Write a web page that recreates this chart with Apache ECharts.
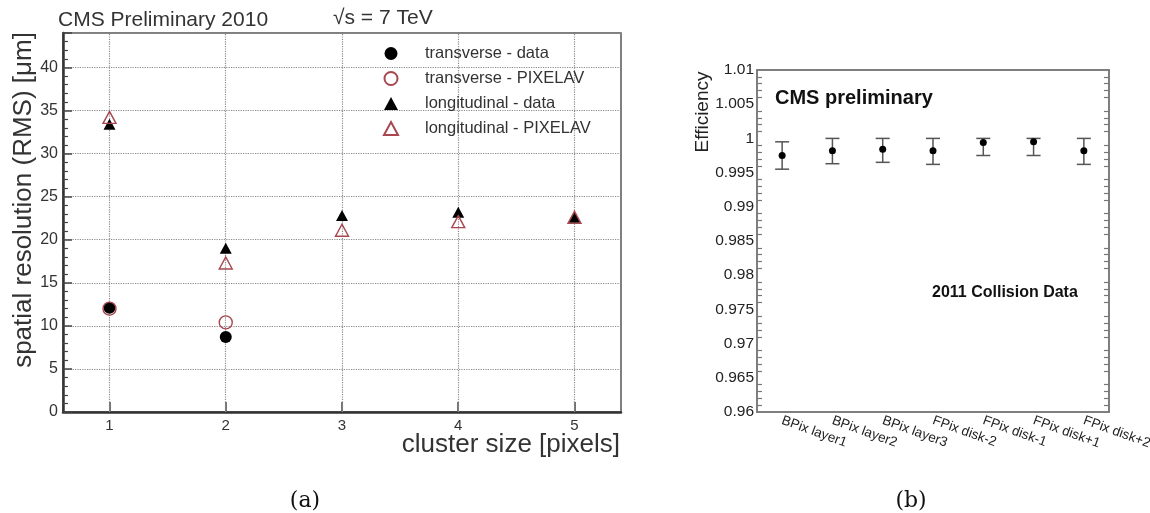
<!DOCTYPE html>
<html><head><meta charset="utf-8">
<script src="https://cdn.jsdelivr.net/npm/echarts@6/dist/echarts.min.js"></script>
<style>html,body{margin:0;padding:0;background:#fff}#c{width:1150px;height:513px}</style>
</head><body><div id="c"></div>
<script>
// ---- panel (a) data ----
const clusterSizes = [1, 2, 3, 4, 5];
const transX = [1, 2];
const transDataY = [12.1, 8.7];
const transSimY = [12.0, 10.4];
const longDataY = [33.4, 19.0, 22.8, 23.2, 22.6];
const longSimY = [34.2, 17.3, 21.1, 22.1, 22.6];
const seriesNames = ['transverse - data', 'transverse - PIXELAV', 'longitudinal - data', 'longitudinal - PIXELAV'];

// ---- panel (b) data ----
const layers = ['BPix layer1', 'BPix layer2', 'BPix layer3', 'FPix disk-2', 'FPix disk-1', 'FPix disk+1', 'FPix disk+2'];
const eff = [0.9975, 0.9982, 0.9984, 0.9982, 0.9994, 0.9995, 0.9982];
const effLow = [0.9955, 0.9963, 0.9965, 0.9962, 0.9975, 0.9975, 0.9962];
const effHigh = [0.9995, 1.0000, 1.0000, 1.0000, 1.0000, 1.0000, 1.0000];

const RED = '#a8474f';
const SANS = '"Liberation Sans", Arial, sans-serif';
const openStyle = { color: 'rgba(255,255,255,0)', borderColor: RED, borderWidth: 1.4, opacity: 1 };
const fillStyle = { color: '#000', opacity: 1 };

const chart = echarts.init(document.getElementById('c'), null, { renderer: 'canvas' });

function errRender(params, api) {
  const x = api.value(0);
  const lo = api.coord([x, api.value(1)]);
  const hi = api.coord([x, api.value(2)]);
  const w = 7;
  const st = { stroke: '#555', lineWidth: 1.5 };
  return {
    type: 'group',
    children: [
      { type: 'line', shape: { x1: lo[0], y1: lo[1], x2: hi[0], y2: hi[1] }, style: st },
      { type: 'line', shape: { x1: lo[0] - w, y1: lo[1], x2: lo[0] + w, y2: lo[1] }, style: st },
      { type: 'line', shape: { x1: hi[0] - w, y1: hi[1], x2: hi[0] + w, y2: hi[1] }, style: st }
    ]
  };
}

const option = {
  animation: false,
  backgroundColor: '#fff',
  textStyle: { fontFamily: SANS },
  grid: [
    { left: 63, top: 33, width: 558, height: 379, show: true, borderColor: '#555', borderWidth: 1.5, backgroundColor: 'transparent', outerBoundsMode: 'none', containLabel: false },
    { left: 757, top: 70, width: 352, height: 342, show: true, borderColor: '#777', borderWidth: 1.5, backgroundColor: 'transparent', outerBoundsMode: 'none', containLabel: false }
  ],
  xAxis: [
    {
      gridIndex: 0, type: 'value', min: 0.6, max: 5.4,
      axisLine: { lineStyle: { color: '#333', width: 2.5 } },
      axisTick: { inside: true, length: 10, customValues: clusterSizes, lineStyle: { color: '#444', width: 1.5 } },
      axisLabel: { customValues: clusterSizes, margin: 6, fontSize: 15, color: '#333', fontFamily: SANS },
      splitLine: { show: false }
    },
    {
      gridIndex: 1, type: 'category', data: layers, position: 'bottom', boundaryGap: true,
      axisLine: { lineStyle: { color: '#777', width: 1.5 } },
      axisTick: { inside: true, length: 9, alignWithLabel: true, lineStyle: { color: '#777', width: 1.5 } },
      axisLabel: { rotate: -20, margin: 8, fontSize: 13.5, color: '#222', fontFamily: SANS, interval: 0 },
      splitLine: { show: false }
    },
    {
      gridIndex: 1, type: 'category', data: layers, position: 'top', boundaryGap: true,
      axisLine: { lineStyle: { color: '#777', width: 1.5 } },
      axisTick: { inside: true, length: 9, alignWithLabel: true, lineStyle: { color: '#777', width: 1.5 } },
      axisLabel: { show: false },
      splitLine: { show: false }
    }
  ],
  yAxis: [
    {
      gridIndex: 0, type: 'value', min: 0, max: 44, interval: 5,
      axisLine: { show: true, lineStyle: { color: '#333', width: 2.5 } },
      axisTick: { inside: true, length: 9, lineStyle: { color: '#444', width: 1.5 } },
      minorTick: { show: true, splitNumber: 5, length: 5, lineStyle: { color: '#444', width: 1.2 } },
      axisLabel: { margin: 5, fontSize: 16, color: '#333', fontFamily: SANS,
        formatter: v => (v % 5 === 0 ? String(v) : '') },
      splitLine: { show: true, lineStyle: { color: '#8a8a8a', type: 'dotted', width: 1.2 } }
    },
    {
      gridIndex: 1, type: 'value', min: 0.96, max: 1.01, interval: 0.005, position: 'left',
      axisLine: { show: true, lineStyle: { color: '#777', width: 1.5 } },
      axisTick: { inside: true, length: 9, lineStyle: { color: '#777', width: 1.5 } },
      minorTick: { show: true, splitNumber: 5, length: 5, lineStyle: { color: '#777', width: 1.2 } },
      axisLabel: { margin: 3, fontSize: 15.5, color: '#222', fontFamily: SANS },
      splitLine: { show: false }
    },
    {
      gridIndex: 1, type: 'value', min: 0.96, max: 1.01, interval: 0.005, position: 'right',
      axisLine: { show: true, lineStyle: { color: '#777', width: 1.5 } },
      axisTick: { inside: true, length: 9, lineStyle: { color: '#777', width: 1.5 } },
      minorTick: { show: true, splitNumber: 5, length: 5, lineStyle: { color: '#777', width: 1.2 } },
      axisLabel: { show: false },
      splitLine: { show: false }
    }
  ],
  legend: {
    orient: 'vertical', left: 378, top: 40, itemWidth: 14, itemHeight: 13, itemGap: 8,
    textStyle: { fontSize: 16.5, color: '#333', fontFamily: SANS, padding: [0, 0, 0, 22] },
    selectedMode: false,
    data: [
      { name: seriesNames[0], icon: 'circle' },
      { name: seriesNames[1], icon: 'circle' },
      { name: seriesNames[2], icon: 'triangle' },
      { name: seriesNames[3], icon: 'triangle' }
    ]
  },
  series: [
    {
      type: 'scatter', name: 'grid-x', xAxisIndex: 0, yAxisIndex: 0, data: [], z: 1, silent: true,
      markLine: {
        silent: true, symbol: 'none', z: 1, label: { show: false },
        lineStyle: { color: '#8a8a8a', type: 'dotted', width: 1.2 },
        data: clusterSizes.map(v => ({ xAxis: v }))
      }
    },
    {
      type: 'scatter', name: seriesNames[0], xAxisIndex: 0, yAxisIndex: 0, z: 3,
      symbol: 'circle', symbolSize: 12, itemStyle: fillStyle,
      data: transX.map((x, i) => [x, transDataY[i]])
    },
    {
      type: 'scatter', name: seriesNames[1], xAxisIndex: 0, yAxisIndex: 0, z: 4,
      symbol: 'circle', symbolSize: 13, itemStyle: openStyle,
      data: transX.map((x, i) => [x, transSimY[i]])
    },
    {
      type: 'scatter', name: seriesNames[2], xAxisIndex: 0, yAxisIndex: 0, z: 3,
      symbol: 'triangle', symbolSize: [12, 11], itemStyle: fillStyle,
      data: clusterSizes.map((x, i) => [x, longDataY[i]])
    },
    {
      type: 'scatter', name: seriesNames[3], xAxisIndex: 0, yAxisIndex: 0, z: 4,
      symbol: 'triangle', symbolSize: [13, 12], itemStyle: openStyle,
      data: clusterSizes.map((x, i) => [x, longSimY[i]])
    },
    {
      type: 'custom', name: 'err', xAxisIndex: 1, yAxisIndex: 1, z: 3,
      renderItem: errRender,
      data: layers.map((c, i) => [i, effLow[i], effHigh[i]])
    },
    {
      type: 'scatter', name: 'eff', xAxisIndex: 1, yAxisIndex: 1, z: 4,
      symbol: 'circle', symbolSize: 7, itemStyle: fillStyle,
      data: eff
    }
  ],
  graphic: [
    { type: 'text', x: 58, y: 20, style: { text: 'CMS Preliminary 2010', font: '21px ' + SANS, fill: '#333', textVerticalAlign: 'middle' } },
    { type: 'text', x: 333, y: 18, style: { text: '√s = 7 TeV', font: '21px ' + SANS, fill: '#333', textVerticalAlign: 'middle' } },
    { type: 'text', x: 24, y: 200, rotation: Math.PI / 2, style: { text: 'spatial resolution (RMS) [μm]', font: '26px ' + SANS, fill: '#333', textAlign: 'center', textVerticalAlign: 'middle' } },
    { type: 'text', x: 620, y: 445, style: { text: 'cluster size [pixels]', font: '26px ' + SANS, fill: '#333', textAlign: 'right', textVerticalAlign: 'middle' } },
    { type: 'text', x: 703, y: 112, rotation: Math.PI / 2, style: { text: 'Efficiency', font: '19px ' + SANS, fill: '#222', textAlign: 'center', textVerticalAlign: 'middle' } },
    { type: 'text', x: 775, y: 98, style: { text: 'CMS preliminary', font: 'bold 20px ' + SANS, fill: '#111', textVerticalAlign: 'middle' } },
    { type: 'text', x: 932, y: 293, style: { text: '2011 Collision Data', font: 'bold 16px ' + SANS, fill: '#111', textVerticalAlign: 'middle' } },
    { type: 'text', x: 305, y: 501, style: { text: '(a)', font: '22px "DejaVu Serif", "Liberation Serif", serif', fill: '#111', textAlign: 'center', textVerticalAlign: 'middle' } },
    { type: 'text', x: 911, y: 501, style: { text: '(b)', font: '22px "DejaVu Serif", "Liberation Serif", serif', fill: '#111', textAlign: 'center', textVerticalAlign: 'middle' } }
  ]
};
chart.setOption(option);
</script>
</body></html>
